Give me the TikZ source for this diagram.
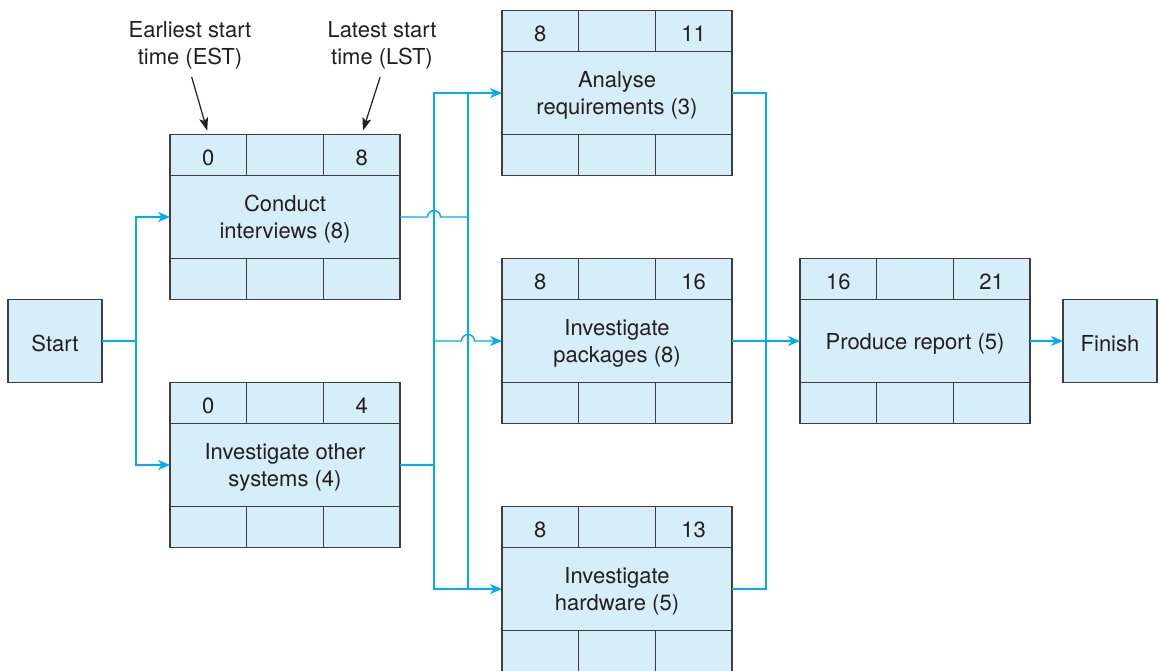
\documentclass[tikz,border=0pt]{standalone}
\usepackage{fontspec}
\setmainfont{TeX Gyre Heros}
\usetikzlibrary{arrows.meta}

\definecolor{boxfill}{RGB}{214,237,250}
\definecolor{flowblue}{RGB}{0,174,239}
\definecolor{boxedge}{RGB}{62,62,62}
\definecolor{ink}{RGB}{35,31,32}

\newcommand{\activity}[5]{%
  \node[mid] (#1) at (#2) {#5};
  \node[cell, anchor=south west] (#1-a) at (#1.north west) {#3};
  \node[cell, anchor=west] (#1-b) at (#1-a.east) {};
  \node[cell, anchor=west] (#1-c) at (#1-b.east) {#4};
  \node[cell, anchor=north west] (#1-d) at (#1.south west) {};
  \node[cell, anchor=west] (#1-e) at (#1-d.east) {};
  \node[cell, anchor=west] (#1-f) at (#1-e.east) {};
}

\begin{document}
\begin{tikzpicture}[x=0.5pt,y=0.5pt,
  font=\fontsize{11}{13.5}\selectfont, text=ink,
  mid/.style={draw=boxedge, fill=boxfill, line width=0.6pt, outer sep=0pt,
    minimum width=115pt, minimum height=41.5pt, inner sep=0pt, align=center,
    text depth=0pt},
  cell/.style={draw=boxedge, fill=boxfill, line width=0.6pt, outer sep=0pt,
    minimum width=38.333pt, minimum height=20.5pt, inner sep=0pt,
    text height=10.5pt, text depth=0pt},
  endbox/.style={draw=boxedge, fill=boxfill, line width=0.6pt, outer sep=0pt,
    minimum width=47pt, minimum height=41.5pt, inner sep=0pt,
    text height=10.5pt, text depth=0pt},
  note/.style={align=center, inner sep=1pt},
  flow/.style={draw=flowblue, line width=0.7pt},
  tip/.style={-{Stealth[length=6pt,width=5pt,inset=1.8pt]}},
  pointer/.style={-{Stealth[length=6.5pt,width=4.5pt,inset=1.5pt]}, line width=0.6pt, draw=ink}]
\useasboundingbox (0,0) rectangle (1159,670);

\node[endbox] (start) at (55,329) {Start};
\node[endbox] (finish) at (1110,329) {Finish};

\activity{cit}{285,453}{0}{8}{Conduct\\interviews (8)}
\activity{ois}{285,205}{0}{4}{Investigate other\\systems (4)}
\activity{ana}{617,577}{8}{11}{Analyse\\requirements (3)}
\activity{pkg}{617,329}{8}{16}{Investigate\\packages (8)}
\activity{hw}{617,81}{8}{13}{Investigate\\hardware (5)}
\activity{rep}{915,329}{16}{21}{Produce report (5)}

\node[note] (est) at (190,625) {Earliest start\\time (EST)};
\node[note] (lst) at (382,625) {Latest start\\time (LST)};
\draw[pointer, shorten <=3pt, shorten >=2pt] (est.south) -- (cit-a.north);
\draw[pointer, shorten <=3pt, shorten >=2pt] (lst.south) -- (cit-c.north);

\coordinate (js) at (136,329);
\coordinate (ja) at (434,205);
\coordinate (jb) at (468,453);
\coordinate (jr) at (766,329);

\draw[flow] (start.east) -- (js);
\draw[flow, tip] (js) |- (cit.west);
\draw[flow, tip] (js) |- (ois.west);

\draw[flow] (ois.east) -- (ja);
\draw[flow, tip] (ja) |- (ana.west);
\draw[flow, tip] (ja) |- (hw.west);
\draw[flow] (cit.east) -- (427.5,453) arc[start angle=180, end angle=0, radius=6.5] -- (jb);
\draw[flow] (jb |- ana.west) -- (jb |- hw.west);
\draw[flow, tip] (ja |- pkg.west) -- (461.5,329) arc[start angle=180, end angle=0, radius=6.5] -- (pkg.west);

\draw[flow] (ana.east) -| (jr);
\draw[flow] (hw.east) -| (jr);
\draw[flow, tip] (pkg.east) -- (rep.west);
\draw[flow, tip] (rep.east) -- (finish.west);
\end{tikzpicture}
\end{document}
